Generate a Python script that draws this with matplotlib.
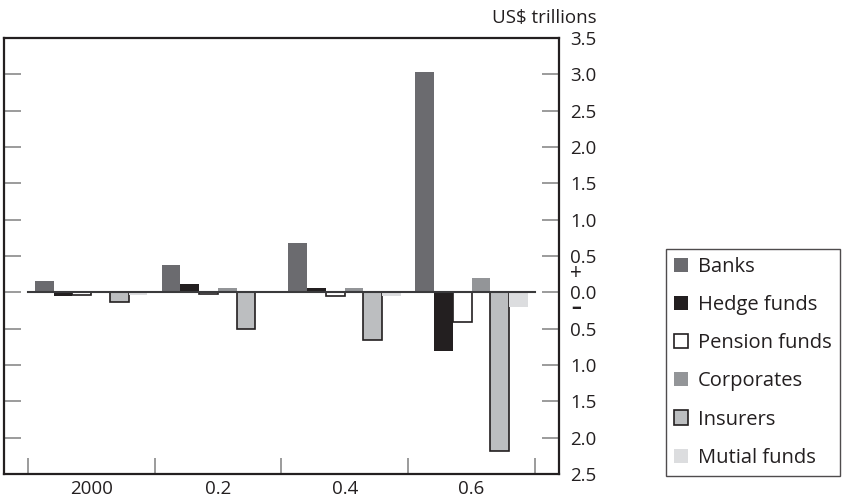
import numpy as np
import matplotlib
matplotlib.use("Agg")
import matplotlib.pyplot as plt
import matplotlib.transforms as mtransforms

plt.rcParams['font.family'] = ['Open Sans', 'DejaVu Sans']

# net positions by sector, US$ trillions
periods = ['2000', '0.2', '0.4', '0.6']
sectors = ['Banks', 'Hedge funds', 'Pension funds', 'Corporates', 'Insurers', 'Mutial funds']
banks = [0.16, 0.37, 0.68, 3.03]
hedge_funds = [-0.05, 0.12, 0.065, -0.81]
pension_funds = [-0.03, -0.02, -0.05, -0.41]
corporates = [0.0, 0.065, 0.065, 0.2]
insurers = [-0.13, -0.5, -0.66, -2.19]
mutual_funds = [-0.03, -0.01, -0.05, -0.2]

ytick_vals = np.arange(-2.5, 3.51, 0.5)
ytick_labels = ['%.1f' % abs(v) for v in ytick_vals]

ink = '#231f20'
styles = [
    dict(color='#6b6b6f', edgecolor='none'),
    dict(color=ink, edgecolor='none'),
    dict(color='white', edgecolor=ink, linewidth=1.2),
    dict(color='#939598', edgecolor='none'),
    dict(color='#bcbec0', edgecolor=ink, linewidth=1.2),
    dict(color='#dcdddf', edgecolor='none'),
]

fig = plt.figure(figsize=(8.49, 5.0), dpi=100)
ax = fig.add_axes([4 / 849, 26 / 500, 555 / 849, 436 / 500])

series = [banks, hedge_funds, pension_funds, corporates, insurers, mutual_funds]
width = 0.148
x = np.arange(len(periods)) + 0.5
for i, (name, vals, st) in enumerate(zip(sectors, series, styles)):
    offs = (i - 2.5) * width
    ax.bar(x + offs, vals, width, label=name, zorder=2, **st)

# zero line across the groups
ax.plot([0, 4], [0, 0], color='#3a3a3c', lw=1.5, zorder=3)

ax.set_xlim(-0.187, 4.19)
ax.set_ylim(-2.5, 3.5)

for s in ax.spines.values():
    s.set_color(ink)
    s.set_linewidth(1.6)

ax.set_xticks(np.arange(0, 5))
ax.set_xticklabels([])
ax.set_xticks(x, minor=True)
ax.set_xticklabels(periods, minor=True)
ax.tick_params(axis='x', which='major', direction='in', length=11.5, width=1.1,
               color='#808080', top=False)
ax.tick_params(axis='x', which='minor', length=0, pad=4, labelsize=13.5, labelcolor=ink)

ax.set_yticks(ytick_vals)
ax.set_yticklabels(ytick_labels)
ax.tick_params(axis='y', direction='in', length=12.5, width=1.1, color='#808080',
               left=True, right=True, labelleft=False, labelright=True,
               labelsize=13.5, labelcolor=ink, pad=8)

# sign markers beside the zero label
tr = mtransforms.blended_transform_factory(ax.transAxes, ax.transData)
ax.text(1.031, 0.26, '+', transform=tr, ha='center', va='center', fontsize=15, color=ink)
ax.text(1.031, -0.21, '\u2013', transform=tr, ha='center', va='center', fontsize=14,
        fontweight='bold', color=ink)

fig.text(597 / 849, 1 - 18 / 500, 'US$ trillions', ha='right', va='center',
         fontsize=13.5, color=ink)

leg = fig.legend(loc='upper left', bbox_to_anchor=(665.5 / 849, 1 - 249 / 500),
                 frameon=True, fancybox=False, edgecolor=ink, fontsize=14.5,
                 handlelength=0.7, handleheight=0.7, handletextpad=0.5,
                 labelspacing=0.9, borderpad=0.4, borderaxespad=0)
leg.get_frame().set_linewidth(1.0)
for t in leg.get_texts():
    t.set_color(ink)

fig.savefig('out.png', dpi=100)
